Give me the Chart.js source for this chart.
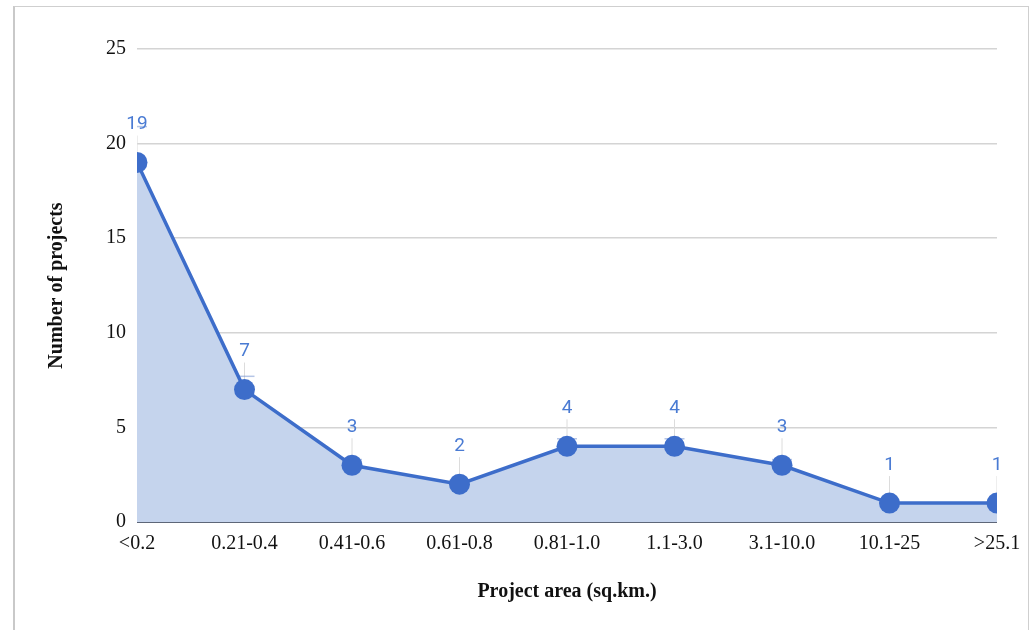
<!DOCTYPE html>
<html>
<head>
<meta charset="utf-8">
<script src="https://cdn.jsdelivr.net/npm/chart.js@4"></script>
<style>
  html, body { margin: 0; padding: 0; background: #fff; }
  #wrap { position: relative; width: 1032px; height: 630px; overflow: hidden; }
  #frame {
    position: absolute; left: 13px; top: 6px; width: 1013px; height: 700px;
    border-left: 2px solid #c9c9c9; border-top: 1px solid #cfcfcf; border-right: 1px solid #cfcfcf;
    pointer-events: none;
  }
  canvas { position: absolute; left: 0; top: 0; }
</style>
</head>
<body>
<div id="wrap">
  <canvas id="chart" width="1032" height="630"></canvas>
  <div id="frame"></div>
</div>
<script>
const categories = ['<0.2', '0.21-0.4', '0.41-0.6', '0.61-0.8', '0.81-1.0', '1.1-3.0', '3.1-10.0', '10.1-25', '>25.1']
const projectCounts = [19, 7, 3, 2, 4, 4, 3, 1, 1]
const errorBars = [1.9, 0.7, 0.3, 0.2, 0.4, 0.4, 0.3, 0.1, 0.1]
const yTicks = [0, 5, 10, 15, 20, 25]

const lineBlue = '#3d6dca'
const labelBlue = '#4a7bd3'

// faint connectors + error caps under the line, value labels on top
const errorBarPlugin = {
  id: 'errorBars',
  beforeDatasetsDraw (chart) {
    const { ctx, chartArea } = chart
    const x = chart.scales.x
    const y = chart.scales.y
    ctx.save()
    ctx.beginPath()
    ctx.rect(chartArea.left, chartArea.top, chartArea.right - chartArea.left, chartArea.bottom - chartArea.top)
    ctx.clip()
    projectCounts.forEach((v, i) => {
      const px = x.getPixelForValue(i)
      const py = y.getPixelForValue(v)
      ctx.strokeStyle = '#dcdcdc'
      ctx.lineWidth = 1
      ctx.beginPath()
      ctx.moveTo(px, py - 27)
      ctx.lineTo(px, y.getPixelForValue(v - errorBars[i]))
      ctx.stroke()
      ctx.strokeStyle = 'rgba(120,150,210,0.55)'
      ctx.lineWidth = 1.5
      ;[v - errorBars[i], v + errorBars[i]].forEach(e => {
        const ey = y.getPixelForValue(e)
        ctx.beginPath()
        ctx.moveTo(px - 10, ey)
        ctx.lineTo(px + 10, ey)
        ctx.stroke()
      })
    })
    ctx.restore()
  },
  afterDatasetsDraw (chart) {
    const { ctx } = chart
    const x = chart.scales.x
    const y = chart.scales.y
    ctx.save()
    ctx.font = '19px Roboto, "Liberation Sans", sans-serif'
    ctx.fillStyle = labelBlue
    ctx.textAlign = 'center'
    ctx.textBaseline = 'middle'
    projectCounts.forEach((v, i) => {
      ctx.fillText(String(v), x.getPixelForValue(i), y.getPixelForValue(v) - 38)
    })
    ctx.restore()
  }
}

new Chart(document.getElementById('chart').getContext('2d'), {
  type: 'line',
  data: {
    labels: categories,
    datasets: [{
      data: projectCounts,
      borderColor: lineBlue,
      backgroundColor: 'rgba(197,212,237,1)',
      borderWidth: 3.5,
      fill: 'origin',
      tension: 0,
      pointRadius: 10.5,
      pointBackgroundColor: lineBlue,
      pointBorderColor: lineBlue,
      pointBorderWidth: 0,
      clip: 0
    }]
  },
  options: {
    responsive: false,
    animation: false,
    layout: { padding: { top: 49, right: 35, bottom: 0, left: 0 } },
    plugins: {
      legend: { display: false },
      tooltip: { enabled: false }
    },
    scales: {
      x: {
        offset: false,
        grid: { display: false, drawTicks: false },
        border: { display: false },
        ticks: {
          padding: 10,
          color: '#111',
          maxRotation: 0,
          autoSkip: false,
          font: { family: '"Liberation Serif", "Times New Roman", serif', size: 20 }
        },
        title: {
          display: true,
          text: 'Project area (sq.km.)',
          color: '#111',
          padding: { top: 0, bottom: 26 },
          font: { family: '"Liberation Serif", "Times New Roman", serif', size: 20, weight: 'bold' }
        },
        afterFit (scale) { scale.height = 108 }
      },
      y: {
        min: 0,
        max: 25,
        afterBuildTicks (scale) { scale.ticks = yTicks.map(v => ({ value: v })) },
        grid: {
          drawTicks: false,
          color: c => (c.tick && c.tick.value === 0 ? '#5d6678' : '#d4d4d4'),
          lineWidth: c => (c.tick && c.tick.value === 0 ? 2 : 1.5)
        },
        border: { display: false },
        ticks: {
          padding: 11,
          color: '#111',
          font: { family: '"Liberation Serif", "Times New Roman", serif', size: 20 }
        },
        title: {
          display: true,
          text: 'Number of projects',
          color: '#111',
          padding: { top: 45, bottom: 0 },
          font: { family: '"Liberation Serif", "Times New Roman", serif', size: 20, weight: 'bold' }
        },
        afterFit (scale) { scale.width = 137 }
      }
    }
  },
  plugins: [errorBarPlugin]
})
</script>
</body>
</html>
